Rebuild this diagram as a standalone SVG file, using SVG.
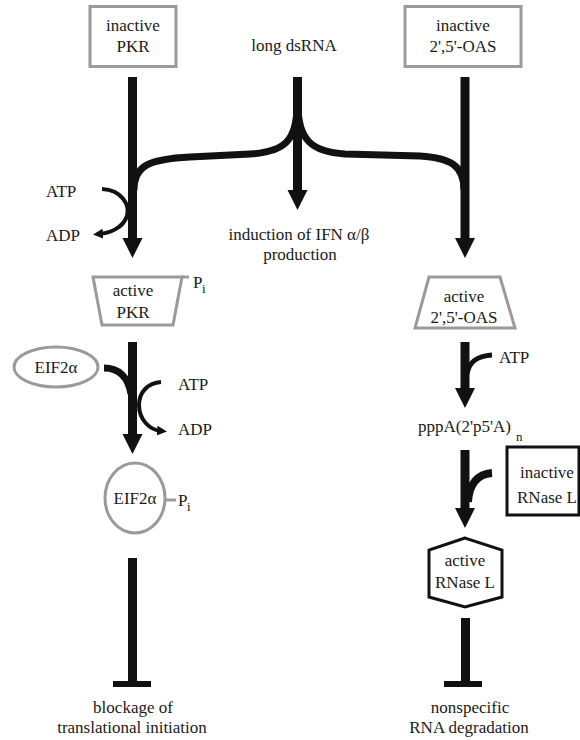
<svg xmlns="http://www.w3.org/2000/svg" width="580" height="740" viewBox="0 0 580 740">
<style>
text{font-family:"Liberation Serif","Times New Roman",serif;font-size:17px;fill:#1a1a1a}
.m{text-anchor:middle}
.sub{font-size:13px}
.gray{fill:#fff;stroke:#9a9a9a;stroke-width:3}
.blk{fill:#fff;stroke:#111;stroke-width:3}
.thick{fill:none;stroke:#111;stroke-width:9}
.curve{fill:none;stroke:#111;stroke-width:7}
.thin{fill:none;stroke:#111;stroke-width:4}
.bar{fill:#111}
</style>
<defs>
<marker id="big" markerUnits="userSpaceOnUse" markerWidth="22" markerHeight="22" refX="10" refY="10" orient="auto"><path d="M0,0 L20,10 L0,20 z" fill="#111"/></marker>
<marker id="small" markerUnits="userSpaceOnUse" markerWidth="12" markerHeight="12" refX="4" refY="5" orient="auto"><path d="M0,0 L10,5 L0,10 z" fill="#111"/></marker>
</defs>
<g id="connectors">
<line class="thick" x1="132.5" y1="77" x2="132.5" y2="248" marker-end="url(#big)"/>
<line class="thick" x1="297.5" y1="77" x2="297.5" y2="200" marker-end="url(#big)"/>
<line class="thick" x1="465" y1="77" x2="465" y2="248" marker-end="url(#big)"/>
<path class="curve" d="M297,105 C297,140 285,152 250,154 L190,157 C150,159 134,165 134,190"/>
<path class="curve" d="M298,105 C298,140 312,152 345,154 L420,156 C450,158 464,165 464,190"/>
<path class="thin" d="M102,189 C122,190 130,205 127,216 C123,228 110,233 99,234" marker-end="url(#small)"/>
<line class="thick" x1="132.5" y1="342" x2="132.5" y2="444" marker-end="url(#big)"/>
<path class="curve" d="M104,368 C118,368 128,376 131,394"/>
<path class="thin" d="M161,382 C148,383 139,392 139,405 C139,420 150,430 161,431" marker-end="url(#small)"/>
<line class="thick" x1="465" y1="342" x2="465" y2="398" marker-end="url(#big)"/>
<path class="thin" style="stroke-width:5" d="M467,374 C469,361 478,356 492,355"/>
<line class="thick" x1="465" y1="450" x2="465" y2="518" marker-end="url(#big)"/>
<path class="curve" style="stroke-width:8" d="M492,473 C478,474 469,484 468,502"/>
<line class="thick" x1="132.5" y1="558" x2="132.5" y2="684"/>
<rect class="bar" x="113" y="681" width="38" height="6"/>
<line class="thick" x1="465.5" y1="618" x2="465.5" y2="684"/>
<rect class="bar" x="444" y="681" width="38" height="6"/>
</g>
<g id="inactive-pkr">
<rect class="gray" x="90" y="6.5" width="86" height="60"/>
<text class="m" x="133" y="31">inactive</text>
<text class="m" x="133" y="52">PKR</text>
</g>
<g id="long-dsrna"><text class="m" x="294" y="51">long dsRNA</text></g>
<g id="inactive-oas">
<rect class="gray" x="405" y="6.5" width="116" height="60"/>
<text class="m" x="463" y="31">inactive</text>
<text class="m" x="463" y="52">2',5'-OAS</text>
</g>
<g id="atp1"><text x="46" y="197">ATP</text></g>
<g id="adp1"><text x="46" y="241">ADP</text></g>
<g id="induction">
<text class="m" x="299" y="240">induction of IFN α/β</text>
<text class="m" x="300" y="260">production</text>
</g>
<g id="active-pkr">
<polygon class="gray" points="93,277 182,277 173,325 102,325"/>
<line x1="182" y1="277" x2="189" y2="277" stroke="#9a9a9a" stroke-width="3"/>
<text class="m" x="133" y="296">active</text>
<text class="m" x="133" y="318">PKR</text>
<text x="193" y="288">P</text><text class="sub" x="202" y="293">i</text>
</g>
<g id="active-oas">
<polygon class="gray" points="429,277 500,277 515,328 415,328"/>
<text class="m" x="464" y="302">active</text>
<text class="m" x="464" y="323">2',5'-OAS</text>
</g>
<g id="eif2a">
<ellipse class="gray" cx="56" cy="367" rx="42" ry="20"/>
<text class="m" x="56" y="373">EIF2α</text>
</g>
<g id="atp2"><text x="178" y="390">ATP</text></g>
<g id="adp2"><text x="178" y="435">ADP</text></g>
<g id="atp3"><text x="499" y="363">ATP</text></g>
<g id="pppa"><text x="418" y="432">pppA(2'p5'A)</text><text class="sub" x="516" y="441">n</text></g>
<g id="inactive-rnasel">
<rect class="blk" x="507" y="447" width="72" height="68"/>
<text class="m" x="547" y="478">inactive</text>
<text class="m" x="547" y="503">RNase L</text>
</g>
<g id="eif2a-p">
<ellipse class="gray" cx="135" cy="498" rx="30" ry="35"/>
<line x1="165" y1="500" x2="176" y2="500" stroke="#9a9a9a" stroke-width="3"/>
<text class="m" x="135" y="504">EIF2α</text>
<text x="178" y="506">P</text><text class="sub" x="187" y="511">i</text>
</g>
<g id="active-rnasel">
<polygon class="blk" points="465,538 429,550 429,597 465,607 502,597 502,550"/>
<text class="m" x="465" y="566">active</text>
<text class="m" x="465" y="588">RNase L</text>
</g>
<g id="blockage">
<text class="m" x="133" y="713">blockage of</text>
<text class="m" x="132" y="733">translational initiation</text>
</g>
<g id="nonspecific">
<text class="m" x="470" y="713">nonspecific</text>
<text class="m" x="469" y="733">RNA degradation</text>
</g>
</svg>
